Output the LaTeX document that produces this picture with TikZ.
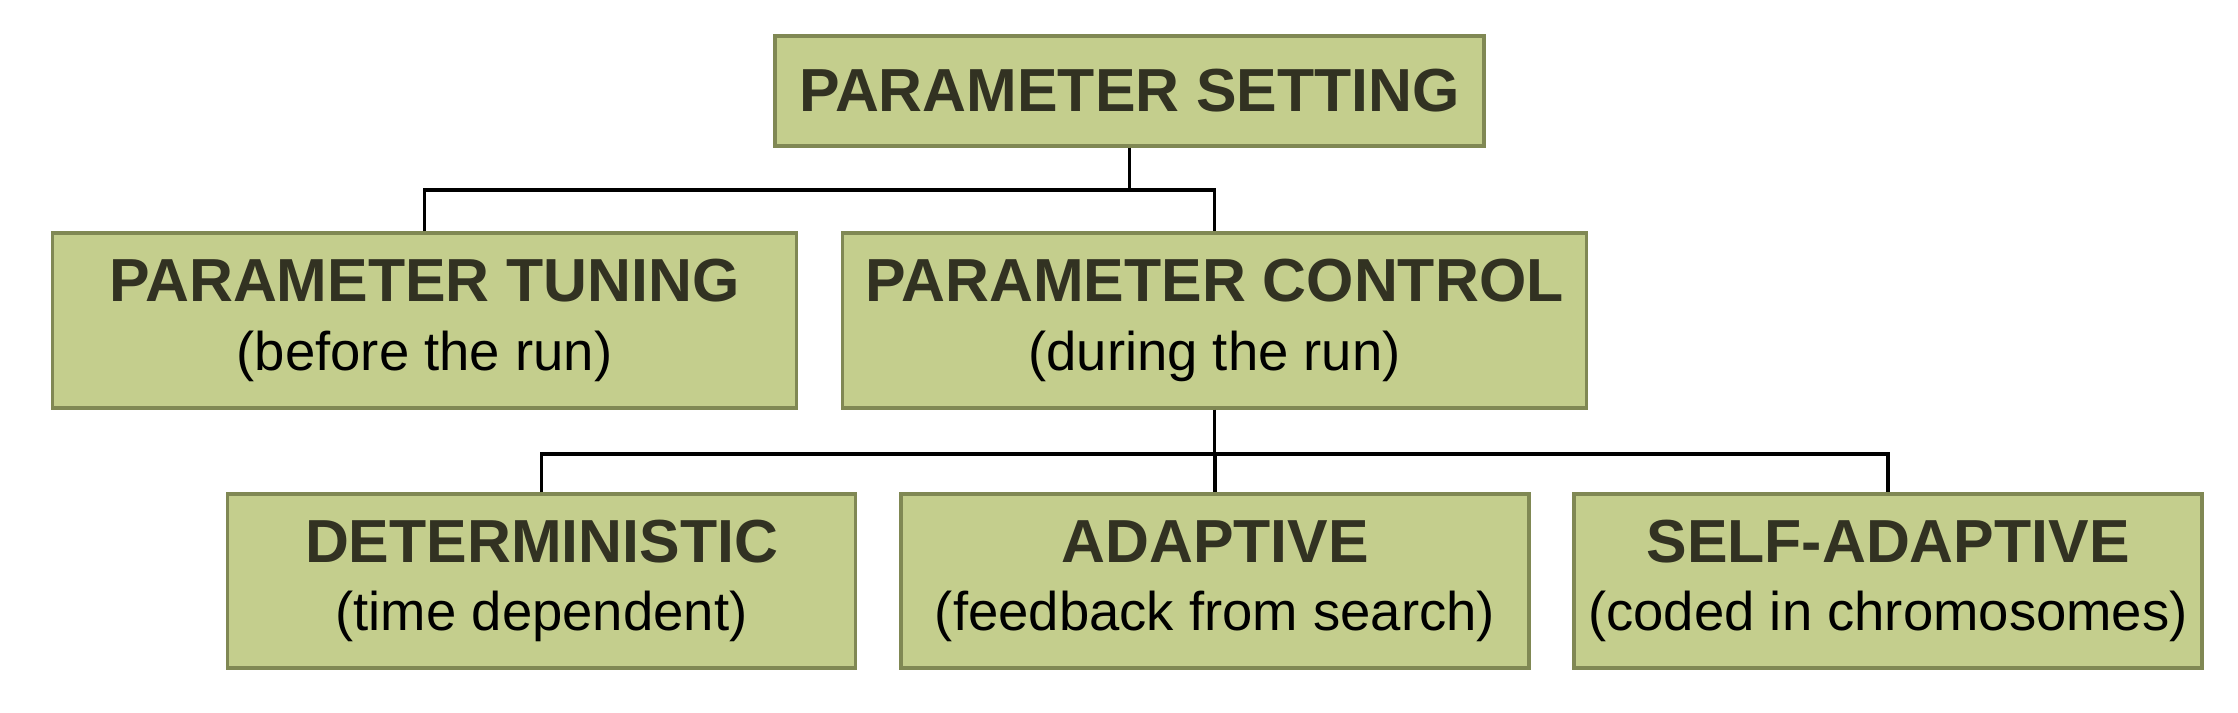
\documentclass[tikz,border=0pt]{standalone}
\usepackage{fontspec}
\setmainfont{Liberation Sans}
\usepackage{xcolor}
\usetikzlibrary{positioning}
\definecolor{boxfill}{RGB}{196,206,141}
\definecolor{boxline}{RGB}{128,136,84}
\definecolor{boxtext}{RGB}{50,50,34}
\newcommand{\headfont}{\fontsize{17.3}{19.5}\selectfont\bfseries}
\newcommand{\subfont}{\fontsize{15.5}{19.5}\selectfont\mdseries\color{black}}
\tikzset{
  pbox/.style  ={draw=boxline, fill=boxfill, line width=0.9pt, text=boxtext,
                 align=center, inner sep=0pt, font=\headfont},
  topbox/.style ={pbox, minimum width=7.09cm, minimum height=1.10cm},
  midbox/.style ={pbox, minimum width=7.44cm, minimum height=1.75cm},
  lowbox/.style ={pbox, minimum width=6.28cm, minimum height=1.74cm},
  link/.style  ={draw=black, line width=1.05pt},
}

\begin{document}
\begin{tikzpicture}
  \useasboundingbox (0,0) rectangle (22.38,7.12);
  % top level
  \node[topbox] (set) at (11.295,6.21) {PARAMETER SETTING};
  % second level
  \node[midbox] (tune) at (4.245,3.915) {PARAMETER TUNING\\{\subfont (before the run)}};
  \node[midbox] (ctrl) at (12.145,3.915) {PARAMETER CONTROL\\{\subfont (during the run)}};
  % third level
  \node[lowbox] (det)  at (5.415,1.31) {DETERMINISTIC\\{\subfont (time dependent)}};
  \node[lowbox] (adap) at (12.15,1.31) {ADAPTIVE\\{\subfont (feedback from search)}};
  \node[lowbox] (self) at (18.88,1.31) {SELF-ADAPTIVE\\{\subfont (coded in chromosomes)}};
  % connectors
  \coordinate (j1) at (set.south |- 0,5.22);
  \coordinate (j2) at (ctrl.south |- 0,2.58);
  \draw[link] (set.south) -- (j1);
  \draw[link] (tune.north) |- (j1) -| (ctrl.north);
  \draw[link] (ctrl.south) -- (j2);
  \draw[link] (det.north) |- (j2) -| (self.north);
  \draw[link] (j2 -| adap.north) -- (adap.north);
\end{tikzpicture}
\end{document}
